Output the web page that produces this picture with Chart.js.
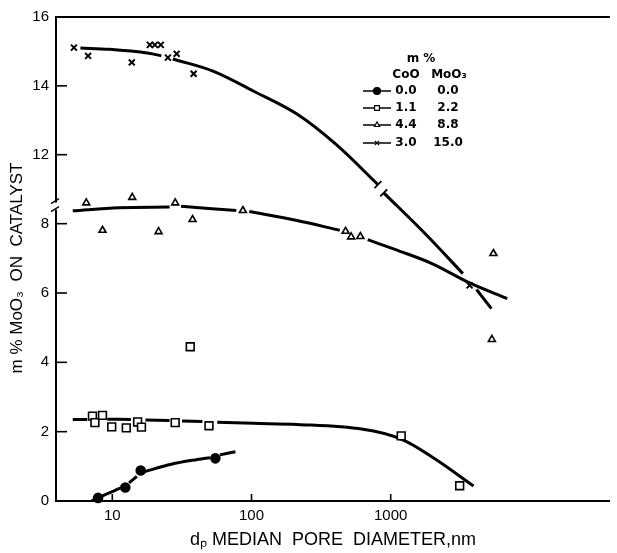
<!DOCTYPE html>
<html>
<head>
<meta charset="utf-8">
<script src="https://cdn.jsdelivr.net/npm/chart.js@4.4.1/dist/chart.umd.min.js"></script>
<style>
  html, body { margin: 0; padding: 0; background: #fff; }
  #wrap { width: 617px; height: 553px; }
</style>
</head>
<body>
<div id="wrap"><canvas id="chart" width="617" height="553"></canvas></div>
<script>
// measured points: median pore diameter (nm) vs m % MoO3 on catalyst
const circleX = [7.9, 12.4, 16.0, 55.0];
const circleY = [0.09, 0.39, 0.88, 1.23];
const squareX = [7.2, 7.5, 8.5, 9.9, 12.6, 15.2, 16.2, 28.3, 36.3, 49.5, 1190, 3130];
const squareY = [2.45, 2.26, 2.47, 2.14, 2.11, 2.28, 2.13, 2.26, 4.45, 2.17, 1.88, 0.44];
const triangleX = [6.5, 8.5, 13.9, 21.5, 28.3, 37.7, 86.7, 474, 520, 605, 5470, 5330];
const triangleY = [8.60, 7.81, 8.76, 7.77, 8.60, 8.12, 8.38, 7.78, 7.62, 7.63, 7.14, 4.66];
const crossHighX = [5.3, 6.7, 13.8, 18.6, 20.2, 22.3, 25.1, 29.0, 38.4];
const crossHighY = [15.11, 14.87, 14.68, 15.19, 15.19, 15.19, 14.82, 14.93, 14.35];
const crossLowX = [3690];
const crossLowY = [6.22];

// hand drawn fit curves (null = pen lifted near a marker)
const circleFitX = [7.1, 8.5, 11.4, 12.4, 13.2, 15.0, 16.0, 16.9, 26.5, 40.9, 50.3, 55, 59.3, 76.6];
const circleFitY = [0, 0.15, 0.37, null, 0.52, 0.71, null, 0.84, 1.06, 1.20, 1.25, null, 1.33, 1.42];
const squareFitX = [5.2, 6.6, 8, 9.2, 13.6, 15.5, 17.3, 25.8, 28.5, 31.7, 44.4, 50, 56.7, 103, 212, 632, 1197, 2085, 3940];
const squareFitY = [2.35, 2.35, null, 2.36, 2.35, null, 2.34, 2.32, null, 2.31, 2.29, null, 2.27, 2.24, 2.21, 2.07, 1.78, 1.21, 0.43];
const triangleFitX = [5.2, 11.2, 25.8, 28.3, 31.2, 77.8, 86.7, 96.3, 212, 430, 520, 684, 1085, 1977, 3690, 6870];
const triangleFitY = [8.37, 8.46, 8.48, null, 8.50, 8.38, null, 8.35, 8.09, 7.81, null, 7.54, 7.25, 6.85, 6.29, 5.84];
const crossHighFitX = [5.9, 9.5, 18.3, 22.5, 25, 27.2, 52.9, 103, 212, 407, 809];
const crossHighFitY = [15.10, 15.06, 14.95, 14.87, null, 14.78, 14.43, 13.85, 13.18, 12.29, 11.13];
const crossLowFitX = [891, 1770, 3300, 3690, 4140, 5290];
const crossLowFitY = [8.89, 7.71, 6.56, null, 6.10, 5.55];

const xTicks = [10, 100, 1000];
const yTicksLow = [0, 2, 4, 6, 8];
const yTicksHigh = [12, 14, 16];

const legendCoO = ['0.0', '1.1', '4.4', '3.0'];
const legendMoO3 = ['0.0', '2.2', '8.8', '15.0'];

const FONT = '"Liberation Sans", Arial, sans-serif';
const zip = (xs, ys) => xs.map((x, i) => ({ x, y: ys[i] }));

const markers = (data, yAxisID, style) => Object.assign({
  data, yAxisID, clip: false, showLine: false,
  borderColor: '#000', backgroundColor: '#fff', pointBorderWidth: 1.6
}, style);

const curve = (data, yAxisID) => ({
  data, yAxisID, clip: false, showLine: true, spanGaps: false,
  borderColor: '#000', borderWidth: 3, pointRadius: 0,
  tension: 0.35, borderCapStyle: 'butt'
});

const legendRows = [
  { pointStyle: 'circle', radius: 3.5, fill: '#000' },
  { pointStyle: 'rect', radius: 3.5, fill: '#fff' },
  { pointStyle: 'triangle', radius: 3, fill: '#fff' },
  { pointStyle: 'crossRot', radius: 3, fill: '#fff' }
];

const decorations = {
  id: 'decorations',
  afterDraw(chart) {
    const { ctx, chartArea: a, scales } = chart;
    const line = (x1, y1, x2, y2) => { ctx.beginPath(); ctx.moveTo(x1, y1); ctx.lineTo(x2, y2); ctx.stroke(); };
    ctx.save();
    ctx.strokeStyle = '#000';
    ctx.fillStyle = '#000';

    // top frame line
    ctx.lineWidth = 2;
    line(a.left, a.top, a.right, a.top);

    // ticks pointing into the plot
    ctx.lineWidth = 1.6;
    ['yLow', 'yHigh'].forEach(id => {
      scales[id].ticks.forEach(t => {
        const py = scales[id].getPixelForValue(t.value);
        line(a.left, py, a.left + 11, py);
      });
    });
    scales.x.ticks.forEach(t => {
      const px = scales.x.getPixelForValue(t.value);
      line(px, a.bottom, px, a.bottom - 7);
    });

    // axis break on the y axis
    const b = scales.yLow.top;
    ctx.fillStyle = '#fff';
    ctx.fillRect(a.left - 3, b - 2, 6, 7);
    ctx.fillStyle = '#000';
    ctx.lineWidth = 1.4;
    line(a.left - 5, b - 1, a.left + 3, b - 6);
    line(a.left - 5, b + 7, a.left + 3, b + 2);

    // break marks on the 15 % curve
    const tickAcross = (el, prev) => {
      const dx = el.x - prev.x, dy = el.y - prev.y;
      const len = Math.hypot(dx, dy) || 1;
      const nx = -dy / len * 5, ny = dx / len * 5;
      line(el.x - nx, el.y - ny, el.x + nx, el.y + ny);
    };
    const hi = chart.getDatasetMeta(8).data;
    const lo = chart.getDatasetMeta(9).data;
    ctx.lineWidth = 1.8;
    tickAcross(hi[hi.length - 1], hi[hi.length - 2]);
    tickAcross(lo[0], lo[1]);

    // y axis title
    ctx.save();
    ctx.translate(17, 268);
    ctx.rotate(-Math.PI / 2);
    ctx.font = '17px ' + FONT;
    ctx.textAlign = 'center';
    ctx.textBaseline = 'middle';
    ctx.fillText('m % MoO\u2083  ON  CATALYST', 0, 0);
    ctx.restore();

    // legend table
    ctx.font = 'bold 12px "DejaVu Sans", sans-serif';
    ctx.textAlign = 'center';
    ctx.textBaseline = 'middle';
    ctx.fillText('m %', 421, 59);
    ctx.fillText('CoO', 406, 75);
    ctx.fillText('MoO\u2083', 449, 75);
    const rowY = [91, 108, 125, 143];
    legendRows.forEach((r, i) => {
      const y = rowY[i];
      ctx.lineWidth = 1.5;
      line(363, y, 391, y);
      ctx.fillStyle = r.fill;
      ctx.lineWidth = 1.2;
      Chart.helpers.drawPoint(ctx, { pointStyle: r.pointStyle, radius: r.radius, borderWidth: 1.2, rotation: 0 }, 377, y);
      ctx.fillStyle = '#000';
      ctx.fillText(legendCoO[i], 406, y);
      ctx.fillText(legendMoO3[i], 448, y);
    });
    ctx.restore();
  }
};

new Chart(document.getElementById('chart'), {
  type: 'scatter',
  data: {
    datasets: [
      markers(zip(circleX, circleY), 'yLow', { pointStyle: 'circle', pointRadius: 4.5, backgroundColor: '#000' }),
      markers(zip(squareX, squareY), 'yLow', { pointStyle: 'rect', pointRadius: 5.5 }),
      markers(zip(triangleX, triangleY), 'yLow', { pointStyle: 'triangle', pointRadius: 4 }),
      markers(zip(crossHighX, crossHighY), 'yHigh', { pointStyle: 'crossRot', pointRadius: 4.2, pointBorderWidth: 2 }),
      markers(zip(crossLowX, crossLowY), 'yLow', { pointStyle: 'crossRot', pointRadius: 4.2, pointBorderWidth: 2 }),
      curve(zip(circleFitX, circleFitY), 'yLow'),
      curve(zip(squareFitX, squareFitY), 'yLow'),
      curve(zip(triangleFitX, triangleFitY), 'yLow'),
      curve(zip(crossHighFitX, crossHighFitY), 'yHigh'),
      curve(zip(crossLowFitX, crossLowFitY), 'yLow')
    ]
  },
  options: {
    responsive: false,
    animation: false,
    layout: { padding: { top: 17, right: 0, bottom: 1, left: 0 } },
    plugins: { legend: { display: false }, tooltip: { enabled: false } },
    scales: {
      x: {
        type: 'logarithmic',
        min: 3.94,
        max: 37560,
        afterBuildTicks: s => { s.ticks = xTicks.map(v => ({ value: v })); },
        afterFit: s => { s.height = 51; },
        grid: { display: false, drawTicks: false },
        border: { color: '#000', width: 2 },
        ticks: { color: '#000', font: { family: FONT, size: 15 }, padding: 6, maxRotation: 0, autoSkip: false, callback: v => String(v) },
        title: { display: true, text: 'd\u209A MEDIAN  PORE  DIAMETER,nm', color: '#000', font: { family: FONT, size: 18 }, padding: { top: 2, bottom: 1 } }
      },
      yLow: {
        type: 'linear',
        position: 'left',
        stack: 'mo',
        stackWeight: 297,
        min: 0,
        max: 8.55,
        afterBuildTicks: s => { s.ticks = yTicksLow.map(v => ({ value: v })); },
        afterFit: s => { s.width = 56; },
        grid: { display: false, drawTicks: false },
        border: { color: '#000', width: 2 },
        ticks: { color: '#000', font: { family: FONT, size: 15 }, padding: 7 }
      },
      yHigh: {
        type: 'linear',
        position: 'left',
        stack: 'mo',
        stackWeight: 188,
        min: 10.55,
        max: 16,
        afterBuildTicks: s => { s.ticks = yTicksHigh.map(v => ({ value: v })); },
        afterFit: s => { s.width = 56; },
        grid: { display: false, drawTicks: false },
        border: { color: '#000', width: 2 },
        ticks: { color: '#000', font: { family: FONT, size: 15 }, padding: 7 }
      }
    }
  },
  plugins: [decorations]
});
</script>
</body>
</html>
